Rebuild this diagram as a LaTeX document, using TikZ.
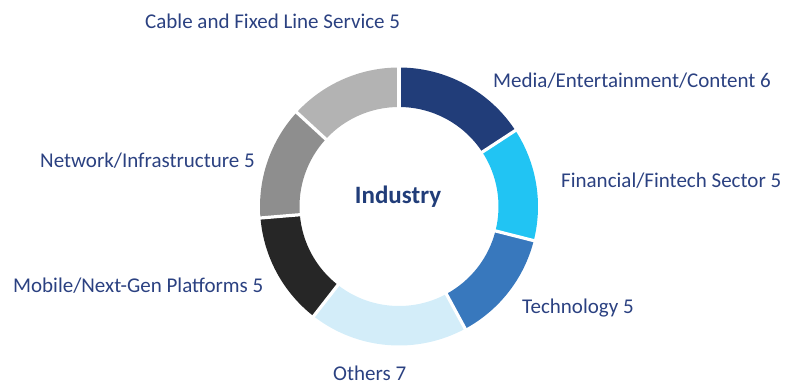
\documentclass[tikz,border=0pt]{standalone}
\usepackage{fontspec}
\setmainfont{Carlito}
\definecolor{labelc}{HTML}{2B4181}
\definecolor{navyc}{HTML}{213D79}
\definecolor{mediac}{HTML}{213D79}
\definecolor{finc}{HTML}{21C4F3}
\definecolor{techc}{HTML}{3878BD}
\definecolor{othc}{HTML}{D3EDF9}
\definecolor{mobc}{HTML}{262626}
\definecolor{netc}{HTML}{8E8E8E}
\definecolor{cabc}{HTML}{B3B3B3}
\newcommand{\donutseg}[3]{%
  \fill[#1] (#2:139pt) arc[start angle=#2, end angle=#3, radius=139pt]
    -- (#3:99.5pt) arc[start angle=#3, end angle=#2, radius=99.5pt] -- cycle;}
\tikzset{
  lbl/.style={anchor=base west, inner sep=0pt, text=labelc, font=\fontsize{21}{24}\selectfont},
  gapline/.style={white, line width=3.2pt},
}
\begin{document}
\begin{tikzpicture}[x=1pt,y=-1pt]
\useasboundingbox (0,0) rectangle (799,388);
\begin{scope}[shift={(399,206.5)}]
  \donutseg{mediac}{90}{33.16}
  \donutseg{finc}{33.16}{-14.21}
  \donutseg{techc}{-14.21}{-61.58}
  \donutseg{othc}{-61.58}{-127.89}
  \donutseg{mobc}{-127.89}{-175.26}
  \donutseg{netc}{-175.26}{-222.63}
  \donutseg{cabc}{-222.63}{-270}
  \foreach \a in {90,33.16,-14.21,-61.58,-127.89,-175.26,-222.63}
    \draw[gapline] (\a:95pt) -- (\a:143pt);
\end{scope}
\node[inner sep=0pt, text=navyc, font=\fontsize{25}{28}\selectfont\bfseries] (ind) at (398,197) {Industry};
\node[lbl] (cab) at (145,28) {Cable and Fixed Line Service 5};
\node[lbl] (med) at (493,87) {Media/Entertainment/Content 6};
\node[lbl] (fin) at (561,187) {Financial/Fintech Sector 5};
\node[lbl] (net) at (40,167) {Network/Infrastructure 5};
\node[lbl] (mob) at (13,292) {Mobile/Next-Gen Platforms 5};
\node[lbl] (tec) at (522,313) {Technology 5};
\node[lbl] (oth) at (333,380) {Others 7};
\end{tikzpicture}
\end{document}
